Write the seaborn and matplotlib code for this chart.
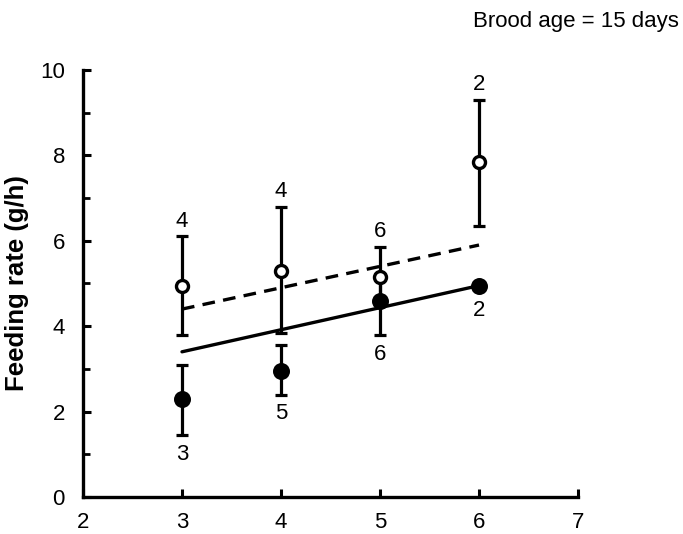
import matplotlib
matplotlib.use("Agg")
import matplotlib.pyplot as plt
from matplotlib.ticker import MultipleLocator
import numpy as np
import pandas as pd
import seaborn as sns

# Nestling number (x) for each group
age = [3, 4, 5, 6]

# Open symbols: mean feeding rate, error-bar ends and sample sizes
open_mean = [4.95, 5.30, 5.15, 7.85]
open_hi = [6.10, 6.80, 5.85, 9.30]
open_lo = [3.80, 3.85, 4.60, 6.35]
open_n = [4, 4, 6, 2]

# Filled symbols
filled_mean = [2.30, 2.95, 4.60, 4.95]
filled_hi = [3.10, 3.55, 5.15, 4.95]
filled_lo = [1.45, 2.40, 3.80, 4.95]
filled_n = [3, 5, 6, 2]

# Fitted regression lines (end points)
fit_x = [3, 6]
fit_open = [4.40, 5.90]
fit_filled = [3.40, 4.95]

sns.set_theme(style="ticks")
plt.rcParams["font.family"] = ["Liberation Sans", "DejaVu Sans"]
plt.rcParams["text.color"] = "black"
plt.rcParams["axes.labelcolor"] = "black"

fig = plt.figure(figsize=(6.83, 5.34), dpi=100)
ax = fig.add_axes([0.1215, 0.0693, 0.7248, 0.7997])

fits = pd.DataFrame({
    "x": fit_x * 2,
    "y": fit_open + fit_filled,
    "group": ["open"] * 2 + ["filled"] * 2,
})
sns.lineplot(data=fits[fits.group == "open"], x="x", y="y", ax=ax,
             color="black", lw=2.4, zorder=2).lines[-1].set_dashes((3.8, 2.5))
sns.lineplot(data=fits[fits.group == "filled"], x="x", y="y", ax=ax,
             color="black", lw=2.4, zorder=2)

err_kw = dict(fmt="none", ecolor="black", elinewidth=2.3, capsize=4.5,
              capthick=2.3, zorder=3, clip_on=False)
o_mean = np.array(open_mean)
f_mean = np.array(filled_mean)
ax.errorbar(age, o_mean, yerr=[o_mean - np.array(open_lo), np.array(open_hi) - o_mean], **err_kw)
ax.errorbar(age, f_mean, yerr=[f_mean - np.array(filled_lo), np.array(filled_hi) - f_mean], **err_kw)

pts = pd.DataFrame({"x": age, "open": open_mean, "filled": filled_mean})
sns.scatterplot(data=pts, x="x", y="filled", ax=ax, s=150, color="black",
                edgecolor="black", linewidth=0, zorder=4, clip_on=False)
sns.scatterplot(data=pts, x="x", y="open", ax=ax, s=75, color="white",
                edgecolor="black", linewidth=2.4, zorder=5, clip_on=False)

# Sample sizes
for x, hi, n in zip(age, open_hi, open_n):
    ax.annotate(str(n), (x, hi), xytext=(0, 11), textcoords="offset points",
                ha="center", va="center", fontsize=16, color="black")
for x, lo, m, n in zip(age, filled_lo, filled_mean, filled_n):
    off = 14 if lo != m else 18
    ax.annotate(str(n), (x, lo), xytext=(0, -off), textcoords="offset points",
                ha="center", va="center", fontsize=16, color="black")

ax.set_xlim(2, 7)
ax.set_ylim(0, 10)
ax.xaxis.set_major_locator(MultipleLocator(1))
ax.yaxis.set_major_locator(MultipleLocator(2))
ax.yaxis.set_minor_locator(MultipleLocator(1))
ax.tick_params(which="major", direction="in", length=6, width=2.2,
               labelsize=16, colors="black", pad=11)
ax.tick_params(which="minor", direction="in", length=5, width=2.0, colors="black")
ax.tick_params(axis="y", pad=13)

for side in ("top", "right"):
    ax.spines[side].set_visible(False)
for side in ("left", "bottom"):
    ax.spines[side].set_linewidth(2.4)
    ax.spines[side].set_color("black")

ax.set_xlabel("")
ax.set_ylabel("Feeding rate (g/h)", fontsize=18.5, fontweight="bold", labelpad=8)

fig.text(0.994, 0.96, "Brood age = 15 days", ha="right", va="center",
         fontsize=16, color="black")

fig.savefig("out.png", dpi=100, facecolor="white")
